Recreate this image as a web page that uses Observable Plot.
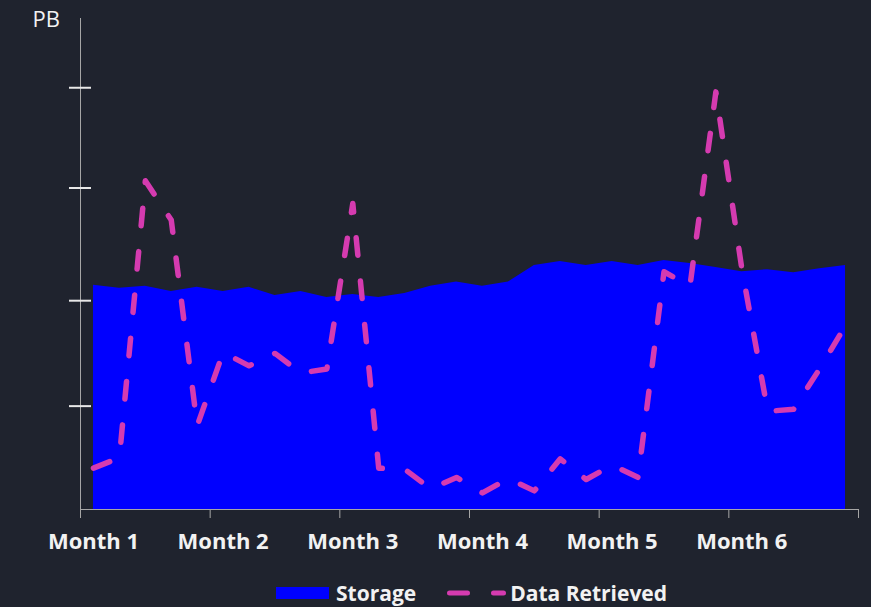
<!DOCTYPE html>
<html>
<head>
<meta charset="utf-8">
<script src="https://cdn.jsdelivr.net/npm/d3@7"></script>
<script src="https://cdn.jsdelivr.net/npm/@observablehq/plot@0.6"></script>
<style>
  html, body { margin: 0; padding: 0; background: #1f232e; }
  body { width: 871px; height: 607px; position: relative; overflow: hidden;
         font-family: "Open Sans", "Noto Sans", sans-serif; }
  #chart { position: absolute; left: 0; top: 0; }
  .legend { position: absolute; top: 578px; left: 276px; height: 30px;
            display: flex; align-items: center; color: #f2f2f2;
            font-weight: 700; font-size: 21px; }
  .legend .swatch { width: 53px; height: 12px; background: #0000ff; margin-right: 7px; }
  .legend svg { margin-right: 4px; }
</style>
</head>
<body>
<div id="chart"></div>
<div class="legend">
  <span class="swatch"></span><span>Storage</span>
  <svg width="59" height="12" style="margin-left:31px">
    <line x1="2.5" y1="6" x2="56.5" y2="6" stroke="#d53bb0" stroke-width="5"
          stroke-linecap="round" stroke-dasharray="18,26"></line>
  </svg><span>Data Retrieved</span>
</div>
<script>
// Month names shown along the x axis; each month holds five reporting periods
const months = ["Month 1", "Month 2", "Month 3", "Month 4", "Month 5", "Month 6"];
const periodsPerMonth = 5;

// Total storage held, PB, per period
const storagePB = [2.17, 2.14, 2.16, 2.11, 2.15, 2.11, 2.15, 2.07, 2.11, 2.05,
                   2.08, 2.05, 2.09, 2.16, 2.20, 2.16, 2.20, 2.36, 2.40, 2.36,
                   2.40, 2.36, 2.41, 2.38, 2.34, 2.30, 2.32, 2.29, 2.33, 2.36];

// Data retrieved, PB, per period
const retrievedPB = [0.40, 0.50, 3.18, 2.80, 0.81, 1.52, 1.39, 1.51, 1.32, 1.36,
                     2.96, 0.40, 0.39, 0.20, 0.31, 0.16, 0.30, 0.18, 0.49, 0.29,
                     0.43, 0.31, 2.30, 2.16, 4.04, 2.33, 0.95, 0.97, 1.36, 1.78];

// Unlabelled y tick marks, PB
const yTicks = [1, 2.02, 3.11, 4.08];
const yMax = 4.75;

const rows = storagePB.map((s, i) => ({period: i, storage: s, retrieved: retrievedPB[i]}));
const nPeriods = rows.length;
const monthStarts = months.map((m, k) => k * periodsPerMonth);
const monthBounds = d3.range(0, nPeriods + 1, periodsPerMonth).map(p => p - 0.5);

const axisColor = "#a6a6a6";

const chart = Plot.plot({
  width: 871,
  height: 570,
  marginLeft: 80,
  marginRight: 13,
  marginTop: 18,
  marginBottom: 61,
  style: {background: "transparent", color: "#f2f2f2", fontFamily: "'Open Sans', 'Noto Sans', sans-serif"},
  x: {domain: [-0.5, nPeriods - 0.5], axis: null},
  y: {domain: [0, yMax], axis: null},
  marks: [
    Plot.areaY(rows, {x: "period", y: "storage", fill: "#0000ff"}),
    Plot.lineY(rows, {
      x: "period", y: "retrieved", stroke: "#d53bb0", strokeWidth: 5.5,
      strokeDasharray: "17.5,26", strokeLinecap: "round", strokeLinejoin: "round"
    }),
    // axis lines
    Plot.ruleY([0], {stroke: axisColor, strokeWidth: 1}),
    Plot.ruleX([-0.5], {stroke: axisColor, strokeWidth: 1}),
    // x tick marks at month boundaries
    Plot.axisX(monthBounds, {tickSize: 9, tickFormat: () => "", stroke: axisColor, label: null}),
    // month labels
    Plot.text(monthStarts, {
      x: d => d, text: (d, i) => months[i], frameAnchor: "bottom",
      lineAnchor: "top", dy: 24, fontSize: 22, fontWeight: 700, fill: "#f2f2f2"
    }),
    // y tick marks crossing the axis
    Plot.axisY(yTicks, {tickSize: 22, dx: 11, tickFormat: () => "", stroke: "#e8e8e8", strokeWidth: 2, label: null}),
    // unit label
    Plot.text(["PB"], {frameAnchor: "top-left", textAnchor: "start", dx: -48, dy: -7, fontSize: 22, fill: "#f2f2f2"})
  ]
});
document.getElementById("chart").append(chart);
</script>
</body>
</html>
